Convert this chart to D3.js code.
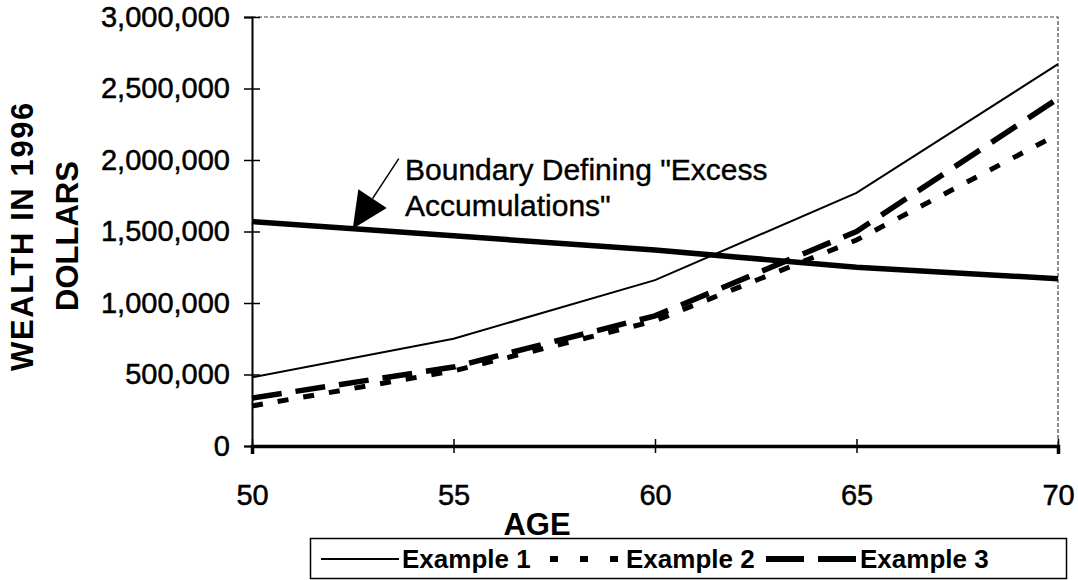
<!DOCTYPE html>
<html>
<head>
<meta charset="utf-8">
<script src="https://cdn.jsdelivr.net/npm/d3@7"></script>
<style>
  html, body { margin: 0; padding: 0; background: #fff; }
  svg { display: block; font-family: "Liberation Sans", Arial, sans-serif; }
  .tick text { fill: #000; }
</style>
</head>
<body>
<svg id="chart" width="1078" height="580"></svg>
<script>
// values
const ages = [50, 55, 60, 65, 70];
const example1 = [480000, 750000, 1160000, 1770000, 2670000];
const example2 = [280000, 525000, 875000, 1440000, 2180000];
const example3 = [335000, 552000, 910000, 1500000, 2430000];
const boundary = [1570000, 1470000, 1370000, 1250000, 1170000];
const yTicks = [0, 500000, 1000000, 1500000, 2000000, 2500000, 3000000];
const seriesNames = ["Example 1", "Example 2", "Example 3"];

const svg = d3.select('#chart');
const margin = {top: 17, right: 20, bottom: 134, left: 252};
const width = 1078 - margin.left - margin.right;   // 806
const height = 580 - margin.top - margin.bottom;   // 429

const g = svg.append('g')
    .attr('transform', `translate(${margin.left},${margin.top})`);

const x = d3.scaleLinear().domain([50, 70]).range([0, width]);
const y = d3.scaleLinear().domain([0, 3000000]).range([height, 0]);

// frame: top and right edges are faint
g.append('path')
    .attr('d', `M0,0H${width}V${height}`)
    .attr('fill', 'none')
    .attr('stroke', '#444')
    .attr('stroke-width', 1.2)
    .attr('stroke-dasharray', '4,2');

// y axis
const yAxis = g.append('g')
    .call(d3.axisLeft(y).tickValues(yTicks).tickFormat(d3.format(',')).tickSize(8).tickPadding(14))
    .style('font-size', '29px');
yAxis.select('.domain').attr('stroke', '#000').attr('stroke-width', 2);
yAxis.selectAll('.tick line').attr('x2', -8).attr('x1', 8).attr('stroke-width', 1.5);
yAxis.selectAll('.tick text')
    .attr('font-family', '"Liberation Sans", Arial, sans-serif')
    .attr('stroke', '#000').attr('stroke-width', 0.5);

// x axis
const xAxis = g.append('g')
    .attr('transform', `translate(0,${height})`)
    .call(d3.axisBottom(x).tickValues(ages).tickFormat(d3.format('d')).tickSize(8).tickPadding(30))
    .style('font-size', '29px');
xAxis.select('.domain').attr('stroke', '#000').attr('stroke-width', 3.5);
xAxis.selectAll('.tick line').attr('y1', -7).attr('y2', 7).attr('stroke-width', 1.5);
xAxis.selectAll('.tick text')
    .attr('font-family', '"Liberation Sans", Arial, sans-serif')
    .attr('stroke', '#000').attr('stroke-width', 0.5);

// axis titles
svg.append('text')
    .attr('x', 537).attr('y', 535)
    .attr('text-anchor', 'middle')
    .style('font-size', '31px').style('font-weight', 'bold')
    .text('AGE');

const yTitle = svg.append('text')
    .attr('transform', 'translate(0,236) rotate(-90)')
    .attr('text-anchor', 'middle')
    .style('font-size', '31px').style('font-weight', 'bold');
yTitle.append('tspan').attr('x', 0).attr('y', 33)
    .style('letter-spacing', '1.6px').text('WEALTH IN 1996');
yTitle.append('tspan').attr('x', 0).attr('y', 78).text('DOLLARS');

// lines
const line = (vals) => d3.line()
    .x((d, i) => x(ages[i]))
    .y(d => y(d))(vals);

g.append('path').attr('d', line(example1))
    .attr('fill', 'none').attr('stroke', '#000').attr('stroke-width', 2);

g.append('path').attr('d', line(example2))
    .attr('fill', 'none').attr('stroke', '#000').attr('stroke-width', 5)
    .attr('stroke-dasharray', '11,15');

g.append('path').attr('d', line(example3))
    .attr('fill', 'none').attr('stroke', '#000').attr('stroke-width', 5.5)
    .attr('stroke-dasharray', '30,14');

g.append('path').attr('d', line(boundary))
    .attr('fill', 'none').attr('stroke', '#000').attr('stroke-width', 5.5);

// annotation with arrow pointing at the boundary line
const tipAge = 52.5;
const tip = [x(tipAge), y(d3.scaleLinear().domain(ages).range(boundary)(tipAge))];
const tail = [x(tipAge) + 46, tip[1] - 70];
const dx = tail[0] - tip[0], dy = tail[1] - tip[1];
const len = Math.hypot(dx, dy);
const ux = dx / len, uy = dy / len;
const headLen = 36, headHalf = 17;
const base = [tip[0] + ux * headLen, tip[1] + uy * headLen];
g.append('line')
    .attr('x1', base[0]).attr('y1', base[1])
    .attr('x2', tail[0]).attr('y2', tail[1])
    .attr('stroke', '#000').attr('stroke-width', 1.5);
g.append('path')
    .attr('d', `M${tip[0]},${tip[1]}L${base[0] - uy * headHalf},${base[1] + ux * headHalf}L${base[0] + uy * headHalf},${base[1] - ux * headHalf}Z`)
    .attr('fill', '#000');

const note = svg.append('text')
    .style('font-size', '30px')
    .attr('stroke', '#000').attr('stroke-width', 0.4);
note.append('tspan').attr('x', 405).attr('y', 180).text('Boundary Defining "Excess');
note.append('tspan').attr('x', 405).attr('y', 216).text('Accumulations"');

// legend
const legend = svg.append('g');
legend.append('rect')
    .attr('x', 310.5).attr('y', 538.5).attr('width', 756).attr('height', 40)
    .attr('fill', 'none').attr('stroke', '#000').attr('stroke-width', 1.5);

const legendItems = [
    {x1: 321, x2: 399, text: 402, w: 2, dash: null},
    {x1: 550, x2: 620, text: 626, w: 6, dash: '8,22'},
    {x1: 766, x2: 856, text: 860, w: 6, dash: '38,14'}
];
legendItems.forEach((d, i) => {
    legend.append('line')
        .attr('x1', d.x1).attr('x2', d.x2).attr('y1', 559).attr('y2', 559)
        .attr('stroke', '#000').attr('stroke-width', d.w)
        .attr('stroke-dasharray', d.dash);
    legend.append('text')
        .attr('x', d.text).attr('y', 568)
        .style('font-size', '26px').style('font-weight', 'bold')
        .text(seriesNames[i]);
});
</script>
</body>
</html>
